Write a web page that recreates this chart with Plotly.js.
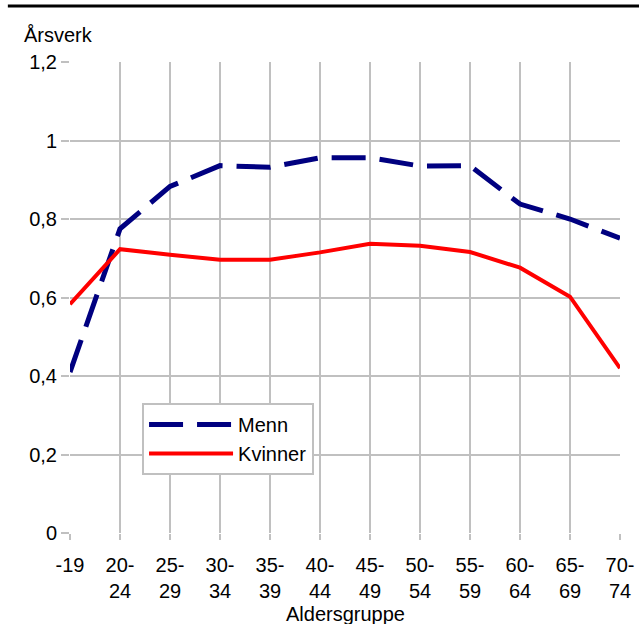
<!DOCTYPE html>
<html>
<head>
<meta charset="utf-8">
<script src="https://cdn.plot.ly/plotly-3.0.1.min.js"></script>
<style>html,body{margin:0;padding:0;background:#fff;}#chart{width:639px;height:624px;}</style>
</head>
<body>
<div id="chart"></div>
<script>
var categories = ["-19", "20-<br>24", "25-<br>29", "30-<br>34", "35-<br>39", "40-<br>44", "45-<br>49", "50-<br>54", "55-<br>59", "60-<br>64", "65-<br>69", "70-<br>74"];
var menn = [0.41, 0.775, 0.883, 0.936, 0.932, 0.956, 0.956, 0.935, 0.936, 0.838, 0.80, 0.751];
var kvinner = [0.583, 0.723, 0.709, 0.696, 0.696, 0.715, 0.737, 0.732, 0.716, 0.676, 0.602, 0.42];
var yTicks = [0, 0.2, 0.4, 0.6, 0.8, 1, 1.2];
var yTickLabels = ["0", "0,2", "0,4", "0,6", "0,8", "1", "1,2"];

var font = {family: "Liberation Sans, Arial, sans-serif", size: 20, color: "#000"};

var traces = [
  {x: categories, y: menn, name: "Menn", mode: "lines", type: "scatter",
   line: {color: "#000080", width: 5, dash: "34px,14px"}},
  {x: categories, y: kvinner, name: "Kvinner", mode: "lines", type: "scatter",
   line: {color: "#ff0000", width: 4}}
];

var layout = {
  width: 639, height: 624,
  margin: {l: 70, r: 19, t: 62, b: 91},
  paper_bgcolor: "#fff", plot_bgcolor: "#fff",
  font: font,
  showlegend: true,
  legend: {x: 0.131, y: 0.276, xanchor: "left", yanchor: "top",
           bgcolor: "#fff", bordercolor: "#c0c0c0", borderwidth: 2,
           font: font, itemwidth: 84, tracegroupgap: 0},
  xaxis: {type: "category", range: [0, 11], showgrid: true, gridcolor: "#c0c0c0", gridwidth: 2,
          zeroline: false, showline: false, ticks: "outside", ticklen: 6, tickcolor: "#c0c0c0", tickwidth: 2,
          ticklabelstandoff: 8,
          tickfont: font, fixedrange: true},
  yaxis: {range: [0, 1.2], tickvals: yTicks, ticktext: yTickLabels, showgrid: true, gridcolor: "#c0c0c0", gridwidth: 2,
          zeroline: false, showline: false, ticks: "outside", ticklen: 8, tickcolor: "#c0c0c0", tickwidth: 2,
          tickfont: font, fixedrange: true},
  annotations: [
    {text: "Årsverk", xref: "paper", yref: "paper", x: -0.087, y: 1.057, xanchor: "left", yanchor: "middle",
     showarrow: false, font: font},
    {text: "Aldersgruppe", xref: "paper", yref: "paper", x: 0.5, y: -0.1725, xanchor: "center", yanchor: "middle",
     showarrow: false, font: font}
  ],
  shapes: [
    {type: "line", xref: "paper", yref: "paper", x0: -0.113, x1: 1.1, y0: 1.119, y1: 1.119,
     line: {color: "#000", width: 3}}
  ]
};

Plotly.newPlot("chart", traces, layout, {displayModeBar: false, staticPlot: true});
</script>
</body>
</html>
